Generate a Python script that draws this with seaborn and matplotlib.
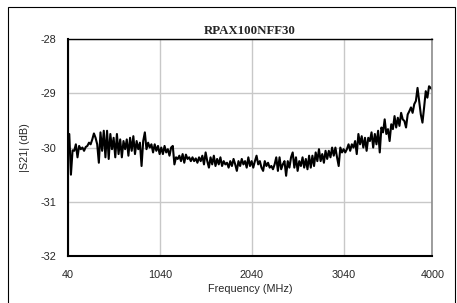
import numpy as np
import pandas as pd
import seaborn as sns
import matplotlib.pyplot as plt
from matplotlib.patches import Rectangle

# |S21|, left to right, 40 -> 4000 MHz
s21 = [
    -30.10, -29.75, -30.50, -30.05,
    -30.06, -29.94, -30.18, -29.97, -30.03, -30.00, -30.06, -29.99, -29.97, -29.91,
    -29.94, -29.85, -29.74, -29.82, -29.94, -30.28, -29.72, -30.06, -29.69, -30.18,
    -29.69, -30.21, -29.75, -30.03, -29.82, -30.18, -29.75, -30.12, -29.85, -30.18,
    -29.88, -30.03, -29.85, -30.15, -29.82, -30.06, -29.79, -30.12, -29.88, -30.03,
    -29.91, -30.34, -29.88, -29.72, -30.03, -29.91, -30.00, -29.94, -30.09, -29.94,
    -30.06, -29.97, -30.12, -30.00, -30.12, -29.97, -30.09, -30.03, -30.15, -30.00,
    -29.97, -30.31, -30.18, -30.21, -30.15, -30.25, -30.12, -30.28, -30.13, -30.21,
    -30.18, -30.25, -30.18, -30.25, -30.20, -30.28, -30.18, -30.25, -30.15, -30.31,
    -30.09, -30.25, -30.37, -30.18, -30.31, -30.15, -30.34, -30.21, -30.31, -30.18,
    -30.34, -30.25, -30.31, -30.28, -30.37, -30.25, -30.34, -30.21, -30.31, -30.43,
    -30.25, -30.34, -30.21, -30.31, -30.25, -30.37, -30.18, -30.34, -30.25, -30.37,
    -30.25, -30.15, -30.31, -30.25, -30.37, -30.43, -30.25, -30.34, -30.28, -30.37,
    -30.34, -30.40, -30.31, -30.18, -30.43, -30.18, -30.40, -30.31, -30.25, -30.52,
    -30.25, -30.37, -30.18, -30.09, -30.37, -30.18, -30.43, -30.25, -30.34, -30.18,
    -30.37, -30.21, -30.40, -30.15, -30.37, -30.15, -30.34, -30.09, -30.25, -30.03,
    -30.25, -30.12, -30.28, -30.06, -30.21, -30.06, -30.18, -30.00, -30.15, -30.00,
    -30.18, -30.34, -30.00, -30.09, -30.03, -30.09, -30.03, -29.94, -30.06, -29.94,
    -30.00, -29.88, -30.12, -29.75, -29.94, -29.79, -30.00, -29.82, -30.06, -29.82,
    -29.88, -29.72, -30.00, -29.75, -29.94, -29.69, -30.09, -29.63, -29.72, -29.48,
    -29.75, -29.66, -29.88, -29.57, -29.66, -29.42, -29.63, -29.45, -29.60, -29.36,
    -29.48, -29.51, -29.63, -29.39, -29.33, -29.26, -29.36, -29.20, -29.14, -28.90,
    -29.14, -29.39, -29.54, -29.26, -28.96, -29.08, -28.87, -28.90, -28.93,
]
freq = np.linspace(40, 4000, len(s21))  # sweep points

xticks = [40, 1040, 2040, 3040, 4000]
yticks = [-32, -31, -30, -29, -28]

df = pd.DataFrame({"freq": freq, "s21": s21})

sns.set_style("white")
plt.rcParams["font.family"] = ["Liberation Sans", "DejaVu Sans"]

fig = plt.figure(figsize=(4.57, 3.03), dpi=100)
ax = fig.add_axes([0.148, 0.155, 0.798, 0.716])

sns.lineplot(data=df, x="freq", y="s21", color="black", linewidth=1.5, ax=ax)

ax.set_xlim(40, 4000)
ax.set_ylim(-32, -28)
ax.set_xticks(xticks)
ax.set_yticks(yticks)
ax.set_xticklabels([str(t) for t in xticks])
ax.set_yticklabels([str(t) for t in yticks])
ax.grid(True, color="#c8c8c8", linewidth=1)
ax.tick_params(length=0, labelsize=7.8, pad=8)
ax.tick_params(axis="x", pad=10)

for side in ["left", "bottom", "top"]:
    ax.spines[side].set_color("black")
ax.spines["left"].set_linewidth(1.5)
ax.spines["bottom"].set_linewidth(1.5)
ax.spines["top"].set_linewidth(1.0)
ax.spines["right"].set_color("#8c8c8c")
ax.spines["right"].set_linewidth(1.2)

ax.set_title("RPAX100NFF30", family="Liberation Serif", fontweight="bold",
             fontsize=9.3, pad=4)
ax.set_xlabel("Frequency (MHz)", fontsize=7.8, labelpad=3)
ax.set_ylabel("|S21| (dB)", fontsize=7.8, labelpad=8)

# outer frame of the chart
fig.patches.append(Rectangle((8 / 457, -0.1), 447 / 457, 1.1 - 7 / 303,
                             transform=fig.transFigure, fill=False,
                             edgecolor="black", linewidth=0.8))

fig.savefig("out.png", dpi=100)
